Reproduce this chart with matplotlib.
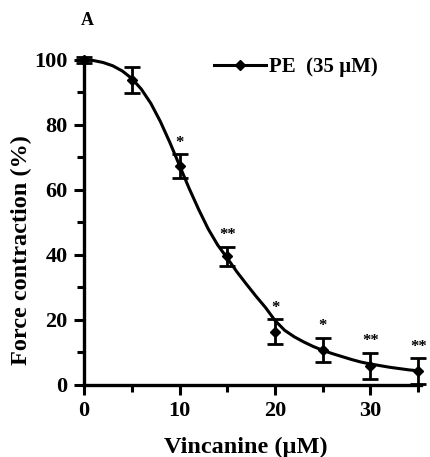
import matplotlib.pyplot as plt
from matplotlib.ticker import MultipleLocator

# --- data ---
conc = [0, 5, 10, 15, 20, 25, 30, 35]
force = [100, 93.8, 67.4, 39.5, 16.4, 10.8, 5.9, 4.3]
sem = [0.8, 4.0, 3.6, 3.0, 3.7, 3.7, 4.0, 4.0]
stars = ["", "", "*", "**", "*", "*", "**", "**"]

# fitted curve, read point by point
fit_x = list(range(0, 36))
fit_y = [100, 99.8, 99.2, 98.2, 96.6, 94.3, 91.0, 86.6, 81.0, 74.5,
         67.5, 60.5, 54.0, 48.0, 43.0, 39.0, 34.8, 31.0, 27.3, 23.8,
         19.8, 16.8, 14.8, 13.2, 11.8, 10.6, 9.6, 8.7, 7.8, 7.0,
         6.4, 5.9, 5.4, 5.0, 4.6, 4.3]

plt.rcParams["font.family"] = ["Liberation Serif", "DejaVu Serif"]

fig = plt.figure(figsize=(4.31, 4.57), dpi=100)
ax = fig.add_axes([0.195, 0.158, 0.782, 0.718])

ax.plot(fit_x, fit_y, color="black", lw=2.2, clip_on=False, zorder=2)
ax.errorbar(conc, force, yerr=sem, fmt="D", color="black", ms=5.5,
            ecolor="black", elinewidth=2, capsize=6, capthick=2,
            clip_on=False, zorder=3)
ax.plot([], [], "-D", color="black", lw=2.2, ms=5.5, label="PE  (35 µM)")

for x, y, e, s in zip(conc, force, sem, stars):
    if s:
        ax.text(x, y + e + 1.0, s, ha="center", va="bottom", fontsize=12,
                fontweight="bold")

ax.set_xlim(0, 35.3)
ax.set_ylim(0, 101)
ax.xaxis.set_major_locator(MultipleLocator(10))
ax.xaxis.set_minor_locator(MultipleLocator(5))
ax.yaxis.set_major_locator(MultipleLocator(20))
ax.yaxis.set_minor_locator(MultipleLocator(10))

for s in ["top", "right"]:
    ax.spines[s].set_visible(False)
for s in ["left", "bottom"]:
    ax.spines[s].set_linewidth(2.4)

ax.tick_params(which="major", length=7, width=2.2, labelsize=16, pad=5)
ax.tick_params(which="minor", length=5, width=2.2)
for lab in ax.get_xticklabels() + ax.get_yticklabels():
    lab.set_fontweight("bold")

ax.set_xlabel("Vincanine (µM)", fontsize=17.5, fontweight="bold")
ax.xaxis.set_label_coords(0.48, -0.16)
ax.set_ylabel("Force contraction (%)", fontsize=17.5, fontweight="bold")
ax.yaxis.set_label_coords(-0.155, 0.41)

fig.text(0.188, 0.955, "A", fontsize=13, fontweight="bold", va="center")

ax.legend(loc="upper left", bbox_to_anchor=(0.33, 1.055), frameon=False,
          handlelength=2.5, handletextpad=0.15,
          prop={"weight": "bold", "size": 15})

fig.savefig("out.png", dpi=100)
